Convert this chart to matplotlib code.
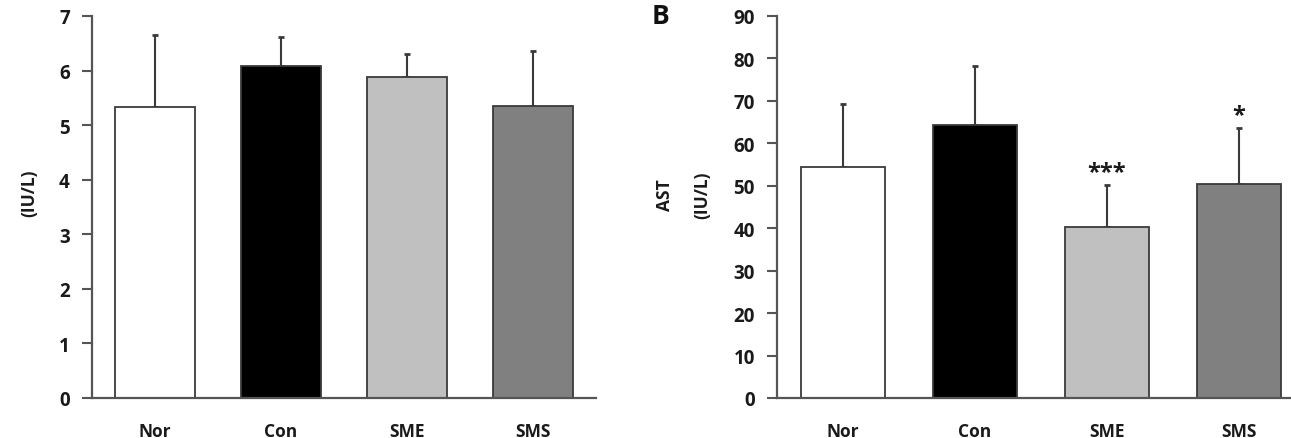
import matplotlib
matplotlib.use("Agg")
import matplotlib.pyplot as plt
import numpy as np

groups = ["Nor", "Con", "SME", "SMS"]
colors = ["#ffffff", "#000000", "#c0c0c0", "#808080"]

alt_mean = [5.33, 6.08, 5.88, 5.35]
alt_err = [1.32, 0.53, 0.42, 1.01]

ast_mean = [54.5, 64.4, 40.4, 50.4]
ast_err = [14.8, 13.9, 9.8, 13.3]
ast_sig = ["", "", "***", "*"]

plt.rcParams['font.family'] = ['Open Sans', 'DejaVu Sans']
plt.rcParams['font.weight'] = 'bold'

W, H = 1291, 439
fig = plt.figure(figsize=(W / 100, H / 100), dpi=100)

axis_col = "#555555"
edge_col = "#3a3a3a"
txt_col = "#1a1a1a"


def panel(ax, means, errs, ymax, ystep):
    x = np.arange(len(groups))
    ax.bar(x, means, width=0.63, color=colors, edgecolor=edge_col, linewidth=1.3, zorder=2)
    ax.errorbar(x, means, yerr=[np.zeros(len(errs)), errs], fmt='none', ecolor=edge_col,
                elinewidth=1.5, capsize=2.5, capthick=2, zorder=1)
    ax.set_xlim(-0.5, 3.5)
    ax.set_ylim(0, ymax)
    ax.set_yticks(np.arange(0, ymax + ystep / 2, ystep))
    ax.set_xticks(x)
    ax.set_xticklabels(groups, fontsize=12.5, fontweight='bold', color=txt_col)
    for s in ['top', 'right']:
        ax.spines[s].set_visible(False)
    for s in ['left', 'bottom']:
        ax.spines[s].set_color(axis_col)
        ax.spines[s].set_linewidth(1.6)
    ax.tick_params(axis='y', direction='out', length=7, width=1.5, color=axis_col,
                   labelsize=13.5, pad=9, labelcolor=txt_col)
    ax.tick_params(axis='x', length=0, pad=17)
    for t in ax.get_yticklabels():
        t.set_fontweight('bold')


ax1 = fig.add_axes([92 / W, 40 / H, 504 / W, 382 / H])
panel(ax1, alt_mean, alt_err, 7, 1)
fig.text(29 / W, 1 - 193 / H, "(IU/L)", rotation=90, ha='center', va='center',
         fontsize=12.5, fontweight='bold', color=txt_col)

ax2 = fig.add_axes([777 / W, 40 / H, 528 / W, 382 / H])
panel(ax2, ast_mean, ast_err, 90, 10)
for i, s in enumerate(ast_sig):
    if s:
        ax2.text(i, ast_mean[i] + ast_err[i] + 0.2, s, ha='center', va='bottom',
                 fontsize=17, fontweight='bold', color=txt_col)
fig.text(665 / W, 1 - 195 / H, "AST", rotation=90, ha='center', va='center',
         fontsize=12.5, fontweight='bold', color=txt_col)
fig.text(702 / W, 1 - 195 / H, "(IU/L)", rotation=90, ha='center', va='center',
         fontsize=12.5, fontweight='bold', color=txt_col)
fig.text(660 / W, 1 - 17 / H, "B", ha='center', va='center',
         fontsize=19, fontweight='bold', color="#111111")

fig.savefig("out.png", dpi=100)
